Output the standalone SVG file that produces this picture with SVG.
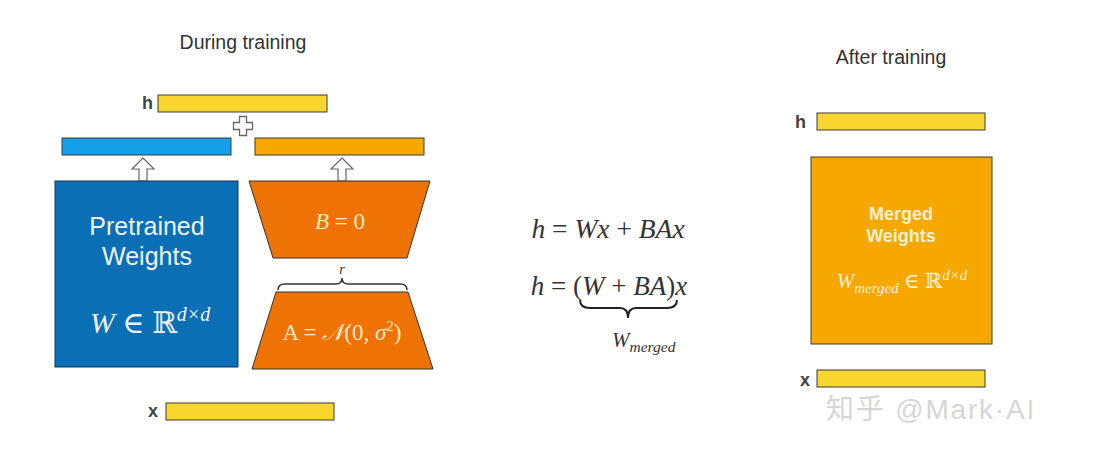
<svg xmlns="http://www.w3.org/2000/svg" width="1112" height="462" viewBox="0 0 1112 462">
<style>
.title{font-family:"Liberation Sans",Arial,sans-serif;font-size:19.5px;fill:#333;text-anchor:middle}
.lbl{font-family:"Liberation Sans",Arial,sans-serif;font-size:18px;font-weight:bold;fill:#444;text-anchor:end}
.bar{stroke:#3a3a3a;stroke-width:1}
.yel{fill:#f9d530}
.math{font-family:"Liberation Serif","DejaVu Serif",serif;font-style:italic}
.up{fill:#fff;stroke:#666;stroke-width:1.2}
.wm{font-family:"Liberation Sans","Noto Sans CJK SC",sans-serif;font-size:28px;fill:#d6d6d6;letter-spacing:1.8px}
</style>
<rect width="1112" height="462" fill="#fff"/>

<text class="title" x="243" y="49">During training</text>
<text class="title" x="891" y="64">After training</text>

<g id="h-left">
  <text class="lbl" x="153" y="109">h</text>
  <rect class="bar yel" x="158" y="95" width="169" height="17"/>
</g>
<g id="plus">
  <path d="M239.5,116.5 h7 v6 h6 v7 h-6 v6 h-7 v-6 h-6 v-7 h6 z" fill="#fff" stroke="#666" stroke-width="1.3"/>
</g>
<g id="blue-bar">
  <rect class="bar" x="62" y="138" width="169" height="17" fill="#17a0ea"/>
</g>
<g id="orange-bar">
  <rect class="bar" x="255" y="138" width="169" height="17" fill="#f7a800"/>
</g>
<g id="connectors">
  <path class="up" d="M143,158 L154,169 L147,169 L147,181 L139,181 L139,169 L132,169 Z"/>
  <path class="up" d="M342,158 L353,169 L346,169 L346,181 L338,181 L338,169 L331,169 Z"/>
</g>
<g id="pretrained">
  <rect x="55" y="181" width="183" height="186" fill="#0a6fb5" stroke="#1a3550" stroke-width="1"/>
  <text x="147" y="235" font-family="Liberation Sans,Arial,sans-serif" font-size="25" fill="#eef4fa" text-anchor="middle">Pretrained</text>
  <text x="147" y="265" font-family="Liberation Sans,Arial,sans-serif" font-size="25" fill="#eef4fa" text-anchor="middle">Weights</text>
  <text x="150" y="333" class="math" font-size="30" fill="#eef4fa" text-anchor="middle">W <tspan font-style="normal">∈ ℝ</tspan><tspan font-size="20" dy="-12">d×d</tspan></text>
</g>
<g id="B">
  <polygon points="249,181 430,181 407,258 273,258" fill="#ee7304" stroke="#333" stroke-width="1"/>
  <text x="340" y="229" class="math" font-size="23" fill="#fde9c6" text-anchor="middle">B <tspan font-style="normal">= 0</tspan></text>
</g>
<g id="rank">
  <path d="M278,290 Q278,284 285,284 L336,284 Q342,284 342,278 Q342,284 348,284 L400,284 Q407,284 407,290" fill="none" stroke="#333" stroke-width="1.5"/>
  <text x="342" y="274" class="math" font-size="14" fill="#333" text-anchor="middle">r</text>
</g>
<g id="A">
  <polygon points="276,292 408,292 433,369 252,369" fill="#ee7304" stroke="#333" stroke-width="1"/>
  <text x="342" y="340" class="math" font-size="23" fill="#fde9c6" text-anchor="middle"><tspan font-style="normal">A = </tspan>𝒩<tspan font-style="normal">(0, </tspan>σ<tspan font-size="15" dy="-9" font-style="normal">2</tspan><tspan dy="9" font-style="normal">)</tspan></text>
</g>
<g id="x-left">
  <text class="lbl" x="158" y="417">x</text>
  <rect class="bar yel" x="166" y="403" width="168" height="17"/>
</g>

<g id="equations" fill="#333">
  <text x="608" y="238" class="math" font-size="27.5" text-anchor="middle">h <tspan font-style="normal">=</tspan> Wx <tspan font-style="normal">+</tspan> BAx</text>
  <text x="609" y="295" class="math" font-size="27" text-anchor="middle">h <tspan font-style="normal">= (</tspan>W <tspan font-style="normal">+</tspan> BA<tspan font-style="normal">)</tspan>x</text>
  <path d="M580,300 Q580,308 590,308 L620,308 Q628,308 628,318 Q628,308 636,308 L667,308 Q677,308 677,300" fill="none" stroke="#222" stroke-width="2"/>
  <text x="612" y="347" class="math" font-size="21">W<tspan font-size="15.5" dy="5">merged</tspan></text>
</g>

<g id="h-right">
  <text class="lbl" x="806" y="128">h</text>
  <rect class="bar yel" x="817" y="113" width="168" height="17"/>
</g>
<g id="merged">
  <rect x="811" y="157" width="181" height="187" fill="#f7a800" stroke="#4a3a10" stroke-width="1"/>
  <text x="901" y="220" font-family="Liberation Sans,Arial,sans-serif" font-size="18" font-weight="bold" fill="#fdf0d0" text-anchor="middle">Merged</text>
  <text x="901" y="242" font-family="Liberation Sans,Arial,sans-serif" font-size="18" font-weight="bold" fill="#fdf0d0" text-anchor="middle">Weights</text>
  <text x="902" y="288" class="math" font-size="21" fill="#fdf0d0" text-anchor="middle">W<tspan font-size="15" dy="5">merged</tspan><tspan font-style="normal" dy="-5"> ∈ ℝ</tspan><tspan font-size="15" dy="-8">d×d</tspan></text>
</g>
<g id="x-right">
  <text class="lbl" x="810" y="386">x</text>
  <rect class="bar yel" x="817" y="370" width="168" height="17"/>
</g>

<text class="wm" x="826" y="419">知乎 @Mark·AI</text>
</svg>
